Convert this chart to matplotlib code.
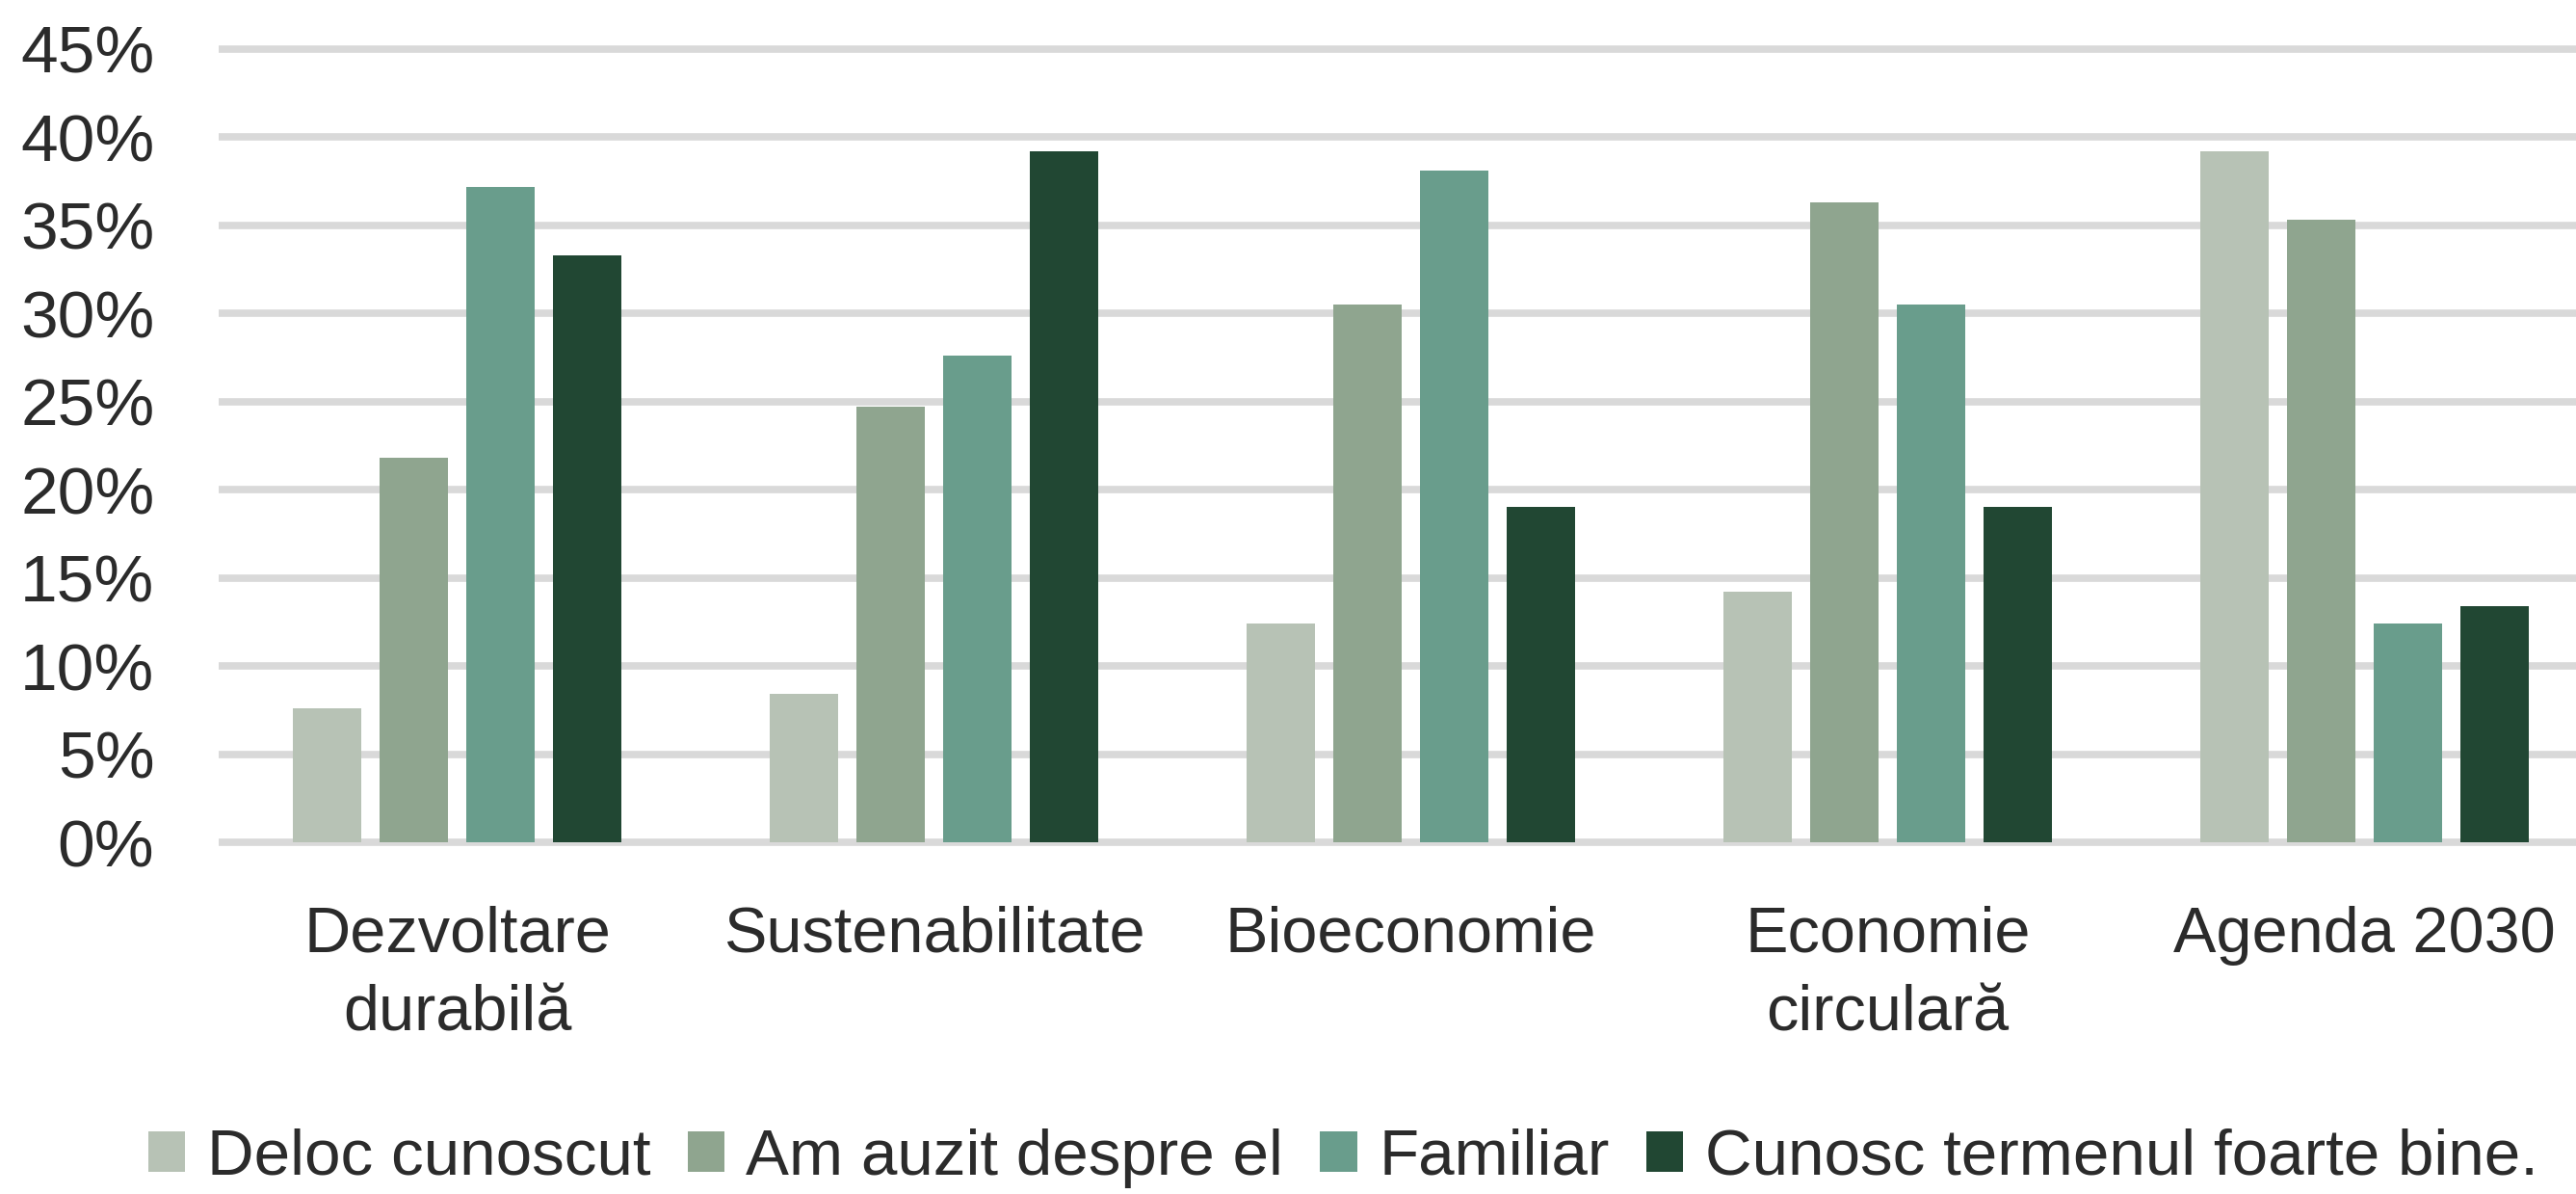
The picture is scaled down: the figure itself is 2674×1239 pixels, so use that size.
import numpy as np
import matplotlib
matplotlib.use("Agg")
import matplotlib.pyplot as plt
from matplotlib.patches import Patch
from matplotlib.ticker import FixedLocator, FuncFormatter

# data
categories = ["Dezvoltare\ndurabilă", "Sustenabilitate", "Bioeconomie",
              "Economie\ncirculară", "Agenda 2030"]
series_names = ["Deloc cunoscut", "Am auzit despre el", "Familiar",
                "Cunosc termenul foarte bine."]
deloc = [7.6, 8.4, 12.4, 14.2, 39.2]
am_auzit = [21.8, 24.7, 30.5, 36.3, 35.3]
familiar = [37.2, 27.6, 38.1, 30.5, 12.4]
cunosc = [33.3, 39.2, 19.0, 19.0, 13.4]
y_ticks = [0, 5, 10, 15, 20, 25, 30, 35, 40, 45]

colors = ["#b7c2b5", "#8fa58f", "#699d8c", "#214733"]
values = [deloc, am_auzit, familiar, cunosc]

plt.rcParams['font.family'] = ['Liberation Sans', 'DejaVu Sans']
text_color = "#2b2b2b"

fig = plt.figure(figsize=(26.74, 12.39), dpi=100)
# plot area runs a bit past the right edge of the figure, like the original
ax = fig.add_axes([0.08489, 0.2909, 0.9256, 0.6717])

x = np.arange(len(categories))
bar_w = 0.1434
step = 0.1818
for i, (vals, col) in enumerate(zip(values, colors)):
    offs = (i - 1.5) * step
    ax.bar(x + offs, vals, width=bar_w, color=col, zorder=3)

ax.set_xlim(-0.5, len(categories) - 0.5)
ax.set_ylim(-0.25, 45.25)
ax.yaxis.set_major_locator(FixedLocator(y_ticks))
ax.yaxis.set_major_formatter(FuncFormatter(lambda v, p: f"{v:.0f}%"))
ax.set_axisbelow(True)
ax.yaxis.grid(True, color="#d9d9d9", linewidth=5.5)
ax.xaxis.grid(False)

ax.set_xticks(x)
ax.set_xticklabels(categories, fontsize=48, color=text_color, linespacing=1.42)
ax.tick_params(axis='x', length=0, pad=44)
ax.tick_params(axis='y', length=0, pad=48, labelsize=50, labelcolor=text_color)

for s in ax.spines.values():
    s.set_visible(False)

handles = [Patch(facecolor=c, edgecolor='none') for c in colors]
fig.legend(handles, series_names, loc='center', bbox_to_anchor=(0.5214, 0.030),
           ncol=4, frameon=False, fontsize=48.5, handlelength=0.57, handleheight=0.57,
           handletextpad=0.33, columnspacing=0.57, borderpad=0, labelcolor=text_color)

fig.savefig("out.png", dpi=100, facecolor="white")
